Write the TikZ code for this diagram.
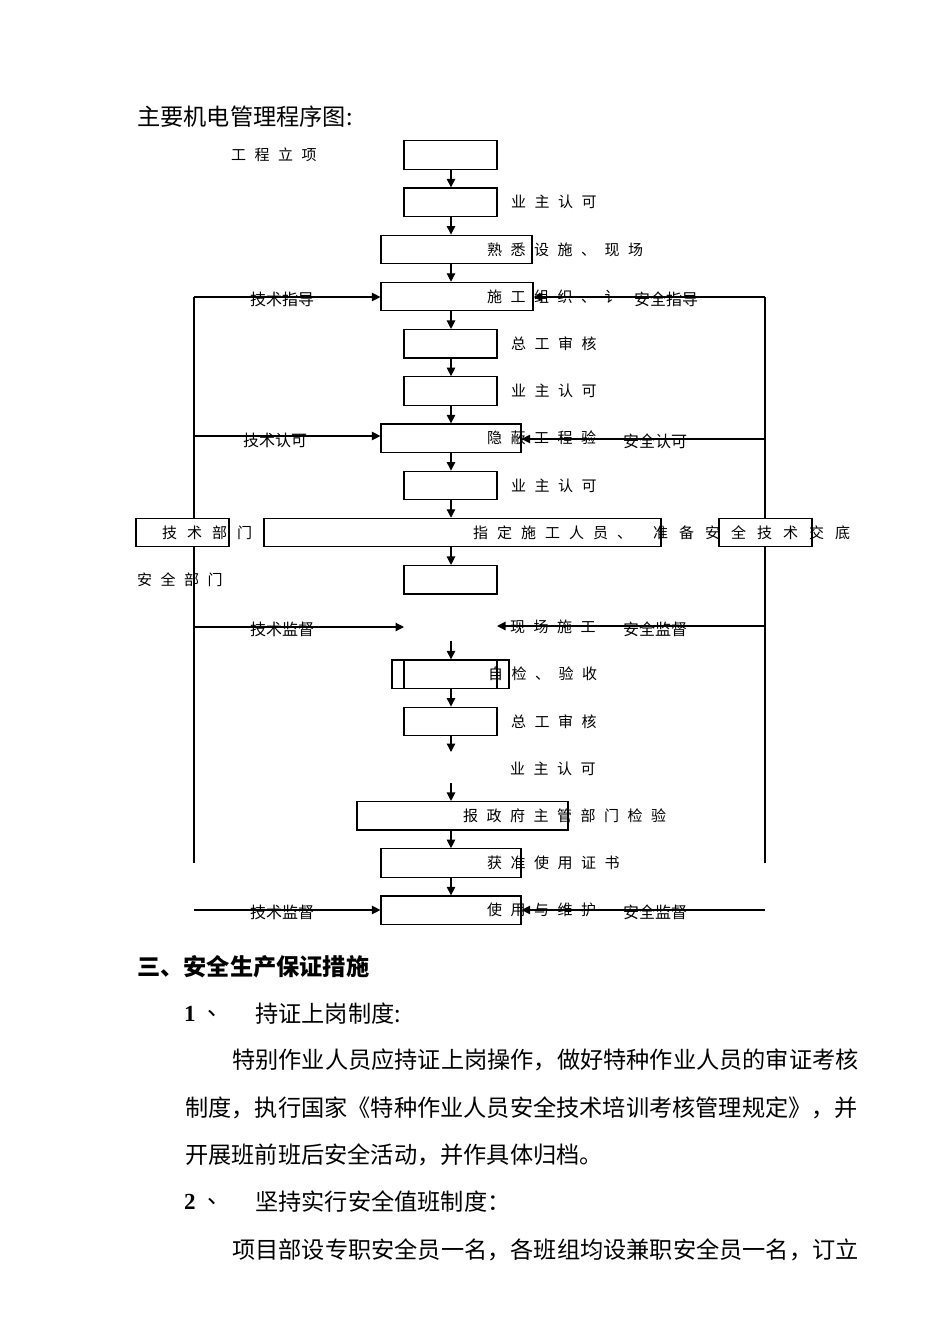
\documentclass[tikz,border=0pt]{standalone}
\usepackage{fontspec}
\usetikzlibrary{arrows.meta}
\newfontfamily\cjk{Noto Sans CJK SC}
\newfontfamily\tms{Liberation Serif}
\newlength\pitch
\setlength\pitch{23.5pt}
\def\spr#1{\sprA#1\relax}
\def\sprA#1{\ifx\relax#1\else\makebox[\pitch][l]{#1}\expandafter\sprA\fi}
\tikzset{
  box/.style={draw, line width=1.2pt, fill=white, inner sep=0pt, minimum height=28.5pt},
  lbl/.style={anchor=west, inner sep=0pt, font=\cjk\fontsize{15}{15}\selectfont},
  sml/.style={anchor=west, inner sep=0pt, font=\cjk\fontsize{16}{16}\selectfont},
  body/.style={anchor=west, inner sep=0pt, font=\cjk\fontsize{23.2}{23.2}\selectfont},
  arr/.style={line width=1.2pt, -{Triangle[length=8.5pt,width=8.5pt]}},
  ln/.style={line width=1.2pt}
}
\begin{document}
\begin{tikzpicture}[x=1pt,y=-1pt]
\useasboundingbox (0,0) rectangle (950,1344);
\fill[white] (0,0) rectangle (950,1344);

% side vertical lines
\coordinate (Ltop) at (194,297);
\coordinate (Lbot) at (194,863);
\coordinate (Rtop) at (765,297);
\coordinate (Rbot) at (765,863);
\draw[ln] (Ltop) -- (Lbot);
\draw[ln] (Rtop) -- (Rbot);

% title
\node[body] (title) at (137,117) {主要机电管理程序图:};

% boxes
\node[box, minimum width=93pt]  (b1)  at (450.5,155)   {};
\node[box, minimum width=93pt]  (b2)  at (450.5,202.2) {};
\node[box, minimum width=151pt] (b3)  at (456.5,249.4) {};
\node[box, minimum width=152pt] (b4)  at (457,296.6)   {};
\node[box, minimum width=93pt]  (b5)  at (450.5,343.8) {};
\node[box, minimum width=93pt]  (b6)  at (450.5,391)   {};
\node[box, minimum width=140pt] (b7)  at (451,438.2)   {};
\node[box, minimum width=93pt]  (b8)  at (450.5,485.4) {};
\node[box, minimum width=397pt] (b9)  at (462.5,532.6) {};
\node[box, minimum width=93pt]  (tb)  at (182.5,532.6) {};
\node[box, minimum width=93pt]  (sb)  at (765.5,532.6) {};
\node[box, minimum width=93pt]  (b10) at (450.5,579.8) {};
\node[box, minimum width=117pt] (b11o) at (450.5,674.2) {};
\node[box, minimum width=93pt]  (b11) at (450.5,674.2) {};
\node[box, minimum width=93pt]  (b12) at (450.5,721.4) {};
\node[box, minimum width=211pt] (b14) at (462.5,815.8) {};
\node[box, minimum width=140pt] (b15) at (451,863)     {};
\node[box, minimum width=140pt] (b16) at (451,910.2)   {};

% flow texts
\node[lbl] (t0)  at (231,155)   {\spr{工程立项}};
\node[lbl] (t1)  at (511,202.2) {\spr{业主认可}};
\node[lbl] (t2)  at (487,249.4) {\spr{熟悉设施、现场}};
\node[lbl] (t3)  at (487,296.6) {\spr{施工组织、讠}};
\node[lbl] (t4)  at (511,343.8) {\spr{总工审核}};
\node[lbl] (t5)  at (511,391)   {\spr{业主认可}};
\node[lbl] (t6)  at (487,438.2) {\spr{隐蔽工程验}};
\node[lbl] (t7)  at (511,485.4) {\spr{业主认可}};
\node[lbl] (t8a) at (162,532.6) {\setlength\pitch{25pt}\spr{技术部门}};
\node[lbl] (t8)  at (473,532.6) {\setlength\pitch{24pt}\spr{指定施工人员、}};
\node[lbl] (t8b) at (653,532.6) {\setlength\pitch{26pt}\spr{准备安全技术交底}};
\node[lbl] (t9)  at (137,579.8) {\spr{安全部门}};
\node[lbl] (t10) at (510,627)   {\spr{现场施工}};
\node[lbl] (t11) at (488,674.2) {\spr{自检、验收}};
\node[lbl] (t12) at (511,721.4) {\spr{总工审核}};
\node[lbl] (t13) at (510,768.6) {\spr{业主认可}};
\node[lbl] (t14) at (463,815.8) {\spr{报政府主管部门检验}};
\node[lbl] (t15) at (487,863)   {\spr{获准使用证书}};
\node[lbl] (t16) at (487,910.2) {\spr{使用与维护}};

% side labels
\node[sml] (s3l)  at (250,299) {技术指导};
\node[sml] (s3r)  at (634,299) {安全指导};
\node[sml] (s6l)  at (243,440) {技术认可};
\node[sml] (s6r)  at (623,441) {安全认可};
\node[sml] (s10l) at (250,629) {技术监督};
\node[sml] (s10r) at (623,629) {安全监督};
\node[sml] (s16l) at (250,912) {技术监督};
\node[sml] (s16r) at (623,912) {安全监督};

% horizontal connectors
\coordinate (L3) at (194,297);
\coordinate (R3) at (765,297);
\coordinate (L6) at (194,436);
\coordinate (R6) at (765,439);
\coordinate (L10) at (194,627);
\coordinate (R10) at (765,626);
\coordinate (G10l) at (404,627);
\coordinate (G10r) at (497,626);
\coordinate (L16) at (194,910);
\coordinate (R16) at (765,910);
\draw[arr] (L3) -- (L3 -| b4.west);
\draw[arr] (R3) -- (R3 -| b4.east);
\draw[arr] (L6) -- (L6 -| b7.west);
\draw[arr] (R6) -- (R6 -| b7.east);
\draw[arr] (L10) -- (G10l);
\draw[arr] (R10) -- (G10r);
\draw[arr] (L16) -- (L16 -| b16.west);
\draw[arr] (R16) -- (R16 -| b16.east);

% vertical flow arrows
\coordinate (A) at (451,0);
\coordinate (V10) at (451,641);
\coordinate (V12) at (451,752);
\coordinate (V13) at (451,783);
\draw[arr] (b1.south -| A) -- (b2.north -| A);
\draw[arr] (b2.south -| A) -- (b3.north -| A);
\draw[arr] (b3.south -| A) -- (b4.north -| A);
\draw[arr] (b4.south -| A) -- (b5.north -| A);
\draw[arr] (b5.south -| A) -- (b6.north -| A);
\draw[arr] (b6.south -| A) -- (b7.north -| A);
\draw[arr] (b7.south -| A) -- (b8.north -| A);
\draw[arr] (b8.south -| A) -- (b9.north -| A);
\draw[arr] (b9.south -| A) -- (b10.north -| A);
\draw[arr] (V10) -- (b11.north -| A);
\draw[arr] (b11.south -| A) -- (b12.north -| A);
\draw[arr] (b12.south -| A) -- (V12);
\draw[arr] (V13) -- (b14.north -| A);
\draw[arr] (b14.south -| A) -- (b15.north -| A);
\draw[arr] (b15.south -| A) -- (b16.north -| A);

% text section
\node[body, font=\cjk\bfseries\fontsize{23.2}{23.2}\selectfont] (h3) at (137,967) {三、安全生产保证措施};
\node[anchor=west, inner sep=0pt, font=\tms\bfseries\fontsize{23}{23}\selectfont] (n1) at (184,1014) {1};
\node[body] (n1d) at (207,1014) {、};
\node[body] (n1t) at (255,1014) {持证上岗制度:};
\node[body] (p1) at (232,1060) {特别作业人员应持证上岗操作，做好特种作业人员的审证考核};
\node[body] (p2) at (185,1108) {制度，执行国家《特种作业人员安全技术培训考核管理规定》，并};
\node[body] (p3) at (185,1155) {开展班前班后安全活动，并作具体归档。};
\node[anchor=west, inner sep=0pt, font=\tms\bfseries\fontsize{23}{23}\selectfont] (n2) at (184,1202) {2};
\node[body] (n2d) at (207,1202) {、};
\node[body] (n2t) at (255,1202) {坚持实行安全值班制度：};
\node[body] (p4) at (232,1250) {项目部设专职安全员一名，各班组均设兼职安全员一名，订立};
\end{tikzpicture}
\end{document}
